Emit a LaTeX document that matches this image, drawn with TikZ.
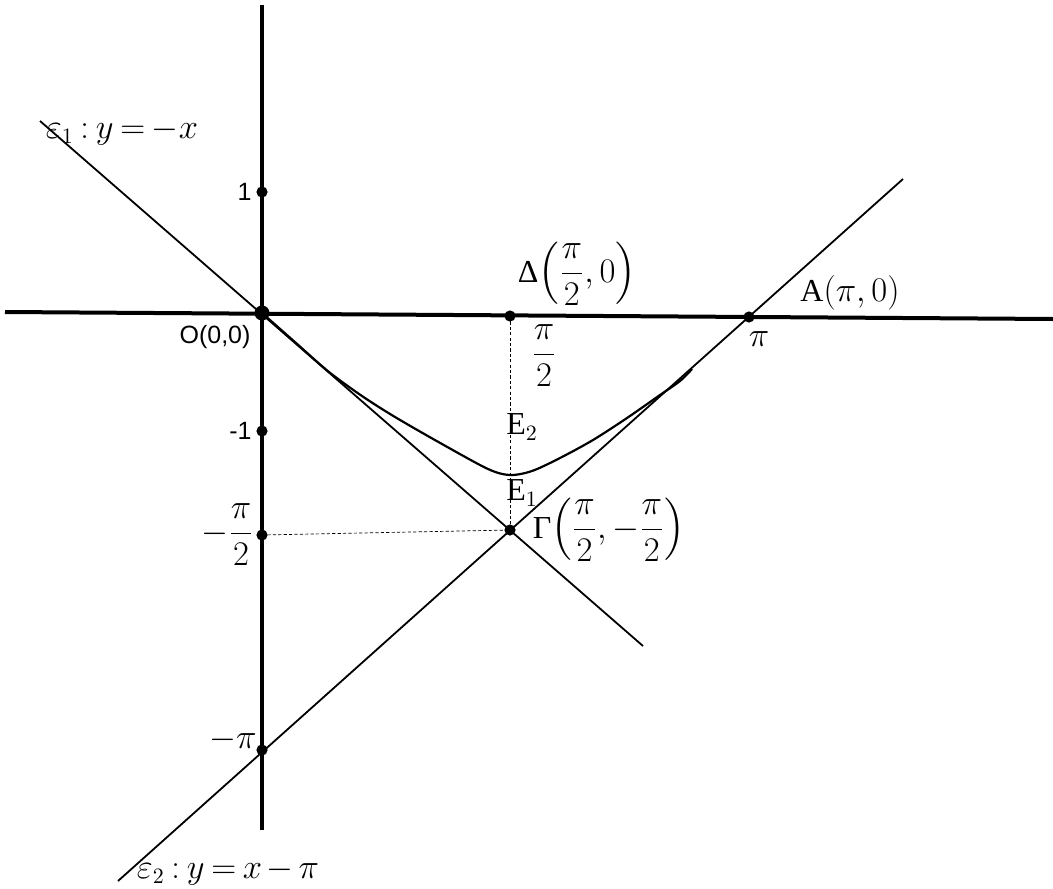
\documentclass[tikz,border=0pt]{standalone}
\usepackage{amsmath}
\usepackage{fontspec}
\setmainfont{Liberation Serif}
\setsansfont{Liberation Sans}
\usetikzlibrary{positioning}
\newcommand{\tightmath}{\thickmuskip=3.5mu\relax\medmuskip=2.5mu\relax}

\begin{document}
\begin{tikzpicture}[x=0.5pt,y=-0.5pt,every node/.style={font=\fontsize{16}{19}\selectfont, inner sep=1pt}]
\tikzset{
  axis/.style={line width=2pt},
  asym/.style={line width=0.9pt},
  guide/.style={line width=0.35pt, dash pattern=on 1.6pt off 1.1pt},
  dot/.style={circle, fill=black, inner sep=0, minimum size=5.6pt},
  sflab/.style={font=\sffamily\fontsize{12.5}{15}\selectfont},
  eqlab/.style={font=\fontsize{16}{19}\selectfont\tightmath}
}
\useasboundingbox (0,0) rectangle (1053,888);
% axes
\coordinate (xl) at (5,312);   \coordinate (xr) at (1053,319);
\coordinate (yt) at (262,5);   \coordinate (yb) at (262,830);
\draw[axis] (xl) -- (xr);
\draw[axis] (yt) -- (yb);
% the two lines
\coordinate (e1a) at (40,121);  \coordinate (e1b) at (643,646);
\coordinate (e2a) at (118,881); \coordinate (e2b) at (903,179);
\draw[asym] (e1a) -- (e1b);
\draw[asym] (e2a) -- (e2b);
% points
\node[dot, minimum size=7.5pt] (O) at (262,313) {};
\node[dot] (D) at (510,316) {};
\node[dot] (A) at (749,317) {};
\node[dot] (G) at (510,530) {};
\node[dot] (y1) at (262,192) {};
\node[dot] (ym1) at (262,431) {};
\node[dot] (yh) at (262,535) {};
\node[dot] (ypi) at (262,750) {};
% projections of Gamma
\draw[guide] (D.center) -- (G.center);
\draw[guide] (yh.center) -- (G.center);
% the curve
\draw[line width=1.1pt] plot[smooth, tension=0.5] coordinates {(262,313) (296,343) (329,372)
  (362,396) (395,417) (442,444) (488,469) (510,475) (532,471) (560,458) (593,440)
  (627,418) (660,395) (680,381) (692,369)};
% labels
\node[eqlab] at (122,132) {$\varepsilon_1 : y=-x$};
\node[eqlab] at (228,872) {$\varepsilon_2 : y=x-\pi$};
\node[sflab, left=1pt of y1] {1};
\node[sflab, left=1pt of ym1] {-1};
\node[sflab] at (215,337) {O(0,0)};
\node[left=0pt of yh] {$-\dfrac{\pi}{2}$};
\node at (233,740) {$-\pi$};
\node at (577,274) {Δ$\left(\dfrac{\pi}{2},0\right)$};
\node at (544,356) {$\dfrac{\pi}{2}$};
\node at (850,293) {A$\left(\pi,0\right)$};
\node at (759,339) {$\pi$};
\node at (522,427) {E$_2$};
\node at (522,493) {E$_1$};
\node at (609,530) {Γ$\left(\dfrac{\pi}{2},-\dfrac{\pi}{2}\right)$};
\end{tikzpicture}
\end{document}
